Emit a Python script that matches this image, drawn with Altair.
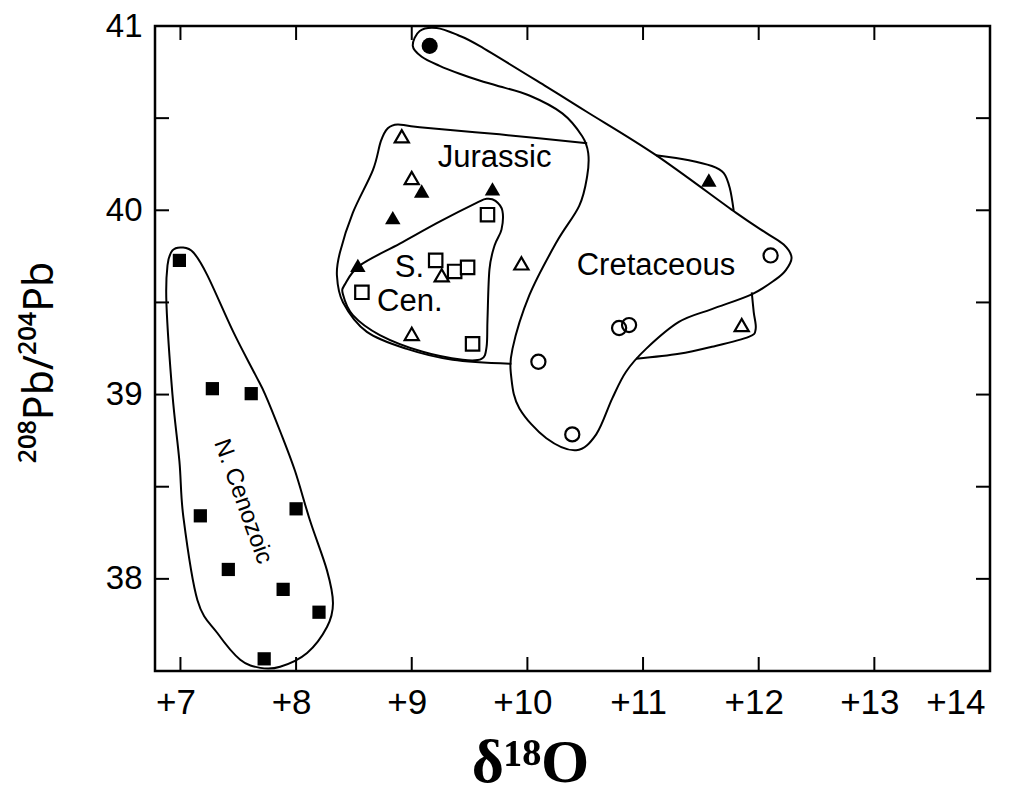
import altair as alt
import pandas as pd

# ---------------- axes ----------------
x_domain = [6.78, 14.0]
y_domain = [37.5, 41.0]
x_tick_values = [7, 8, 9, 10, 11, 12, 13, 14]
y_tick_values = [37.5, 38, 38.5, 39, 39.5, 40, 40.5, 41]
y_label_values = [38, 39, 40, 41]

# ---------------- data points ----------------
ncen_x = [6.991, 7.276, 7.612, 7.172, 8.000, 7.414, 7.888, 8.198, 7.724]
ncen_y = [39.728, 39.032, 39.005, 38.342, 38.380, 38.051, 37.943, 37.819, 37.566]

jur_fill_x = [9.086, 9.698, 8.836, 8.534, 11.569]
jur_fill_y = [40.105, 40.116, 39.960, 39.701, 40.164]

jur_open_x = [8.914, 9.000, 9.948, 9.259, 9.000, 11.853]
jur_open_y = [40.402, 40.175, 39.712, 39.647, 39.329, 39.377]

scen_x = [9.655, 9.207, 9.371, 9.483, 8.569, 9.526]
scen_y = [39.976, 39.728, 39.668, 39.690, 39.555, 39.275]

cret_open_x = [12.103, 10.793, 10.879, 10.095, 10.388]
cret_open_y = [39.755, 39.361, 39.377, 39.178, 38.784]

cret_fill_x = [9.155]
cret_fill_y = [40.892]

# ---------------- envelopes (outline vertices) ----------------
env_ncen_x = [7.017, 7.112, 7.233, 7.457, 7.647, 7.733, 7.862, 7.991, 8.121, 8.267,
              8.319, 8.267, 8.095, 7.862, 7.690, 7.517, 7.319, 7.147, 7.026, 6.991,
              6.931, 6.879, 6.888, 6.931]
env_ncen_y = [39.798, 39.771, 39.647, 39.340, 39.108, 39.000, 38.801, 38.585, 38.315, 38.046,
              37.868, 37.739, 37.598, 37.523, 37.517, 37.561, 37.706, 37.884, 38.332, 38.639,
              39.000, 39.491, 39.701, 39.782]

env_scen_x = [9.647, 9.724, 9.784, 9.776, 9.716, 9.672, 9.655, 9.647, 9.603, 9.440,
              9.095, 8.724, 8.491, 8.405, 8.422, 8.552, 8.897, 9.241, 9.560]
env_scen_y = [40.062, 40.051, 39.997, 39.895, 39.809, 39.679, 39.410, 39.259, 39.194, 39.189,
              39.232, 39.323, 39.431, 39.544, 39.598, 39.701, 39.819, 39.938, 40.040]

env_cret_x = [9.069, 9.216, 9.397, 9.586, 10.164, 10.509, 11.112, 11.802, 12.060, 12.216,
              12.284, 12.233, 12.147, 11.940, 11.595, 11.310, 11.026, 10.853, 10.733, 10.595,
              10.422, 10.164, 9.931, 9.862, 9.871, 10.017, 10.250, 10.448, 10.517, 10.526,
              10.474, 10.302, 10.017, 9.733, 9.586, 9.414, 9.241, 9.086, 9.009]
env_cret_y = [40.973, 40.989, 40.951, 40.892, 40.671, 40.536, 40.299, 39.987, 39.879, 39.814,
              39.744, 39.674, 39.625, 39.544, 39.464, 39.394, 39.248, 39.124, 38.978, 38.784,
              38.698, 38.763, 38.925, 39.086, 39.248, 39.539, 39.825, 40.024, 40.186, 40.310,
              40.402, 40.526, 40.623, 40.677, 40.704, 40.741, 40.784, 40.833, 40.892]

# Jurassic envelope: visible pieces (the rest is hidden by the Cretaceous outline)
env_jur1_x = [10.517, 9.759, 9.069, 8.879, 8.793, 8.733, 8.664, 8.491, 8.379, 8.353,
              8.405, 8.612, 8.957, 9.353, 9.862]
env_jur1_y = [40.364, 40.412, 40.450, 40.466, 40.445, 40.375, 40.218, 39.987, 39.771, 39.647,
              39.501, 39.340, 39.248, 39.189, 39.167]
env_jur2_x = [11.112, 11.397, 11.595, 11.698, 11.750, 11.784]
env_jur2_y = [40.299, 40.272, 40.240, 40.202, 40.121, 39.997]
env_jur3_x = [11.940, 11.957, 11.974, 11.914, 11.595, 11.310, 10.940]
env_jur3_y = [39.555, 39.447, 39.356, 39.313, 39.259, 39.221, 39.194]

# ---------------- annotations ----------------
lab_text = ["Jurassic", "Cretaceous"]
lab_x = [9.716, 11.112]
lab_y = [40.283, 39.700]
left_text = ["S.", "Cen."]
left_x = [8.853, 8.700]
left_y = [39.685, 39.500]
rot_text = ["N. Cenozoic"]
rot_x = [7.54]
rot_y = [38.42]

W, H = 835, 645
TICK = 14
SANS = "Liberation Sans"


def X(field):
    return alt.X(
        field, type="quantitative",
        scale=alt.Scale(domain=x_domain, nice=False, zero=False),
        axis=alt.Axis(values=x_tick_values, labelExpr="'+' + datum.value",
                      ticks=False, tickSize=0, domain=False, grid=False,
                      labelFont=SANS, labelFontSize=35, labelPadding=14, labelOffset=-5,
                      labelColor="black", titleColor="black",
                      titleFont="Liberation Serif", titleFontSize=62, titleFontWeight="bold",
                      titlePadding=12, titleX=375, titleAlign="center"),
        title="δ¹⁸O")


def Y(field):
    return alt.Y(
        field, type="quantitative",
        scale=alt.Scale(domain=y_domain, nice=False, zero=False),
        axis=alt.Axis(values=y_label_values, ticks=False, tickSize=0, domain=False, grid=False,
                      labelFont=SANS, labelFontSize=33, labelPadding=13,
                      labelColor="black", titleColor="black",
                      titleFont="Noto Sans", titleFontSize=41, titleFontWeight="normal",
                      titlePadding=44, titleY=336),
        title="²⁰⁸Pb/²⁰⁴Pb")


def pts(xs, ys):
    return pd.DataFrame({"x": xs, "y": ys})


def path(xs, ys, part=0):
    return pd.DataFrame({"x": xs, "y": ys, "i": list(range(len(xs))), "part": part})


layers = []

# envelopes
for ex, ey in [(env_ncen_x, env_ncen_y), (env_scen_x, env_scen_y), (env_cret_x, env_cret_y)]:
    layers.append(
        alt.Chart(path(ex, ey)).mark_line(interpolate="cardinal-closed", color="black",
                                          strokeWidth=2)
        .encode(x=X("x"), y=Y("y"), order=alt.Order("i:Q"))
    )
jur = pd.concat([path(env_jur1_x, env_jur1_y, 1), path(env_jur2_x, env_jur2_y, 2),
                 path(env_jur3_x, env_jur3_y, 3)])
layers.append(
    alt.Chart(jur).mark_line(interpolate="cardinal", color="black", strokeWidth=2)
    .encode(x=X("x"), y=Y("y"), order=alt.Order("i:Q"), detail="part:N")
)

# markers
layers.append(alt.Chart(pts(ncen_x, ncen_y)).mark_point(shape="square", filled=True, color="black",
                                                        size=175, opacity=1)
              .encode(x=X("x"), y=Y("y")))
layers.append(alt.Chart(pts(jur_fill_x, jur_fill_y)).mark_point(shape="triangle-up", filled=True,
                                                                color="black", size=240, opacity=1)
              .encode(x=X("x"), y=Y("y")))
layers.append(alt.Chart(pts(jur_open_x, jur_open_y)).mark_point(shape="triangle-up", filled=False,
                                                                color="black", size=200,
                                                                strokeWidth=2.2, opacity=1)
              .encode(x=X("x"), y=Y("y")))
layers.append(alt.Chart(pts(scen_x, scen_y)).mark_point(shape="square", filled=False, color="black",
                                                        size=180, strokeWidth=2.2, opacity=1,
                                                        fill="white")
              .encode(x=X("x"), y=Y("y")))
layers.append(alt.Chart(pts(cret_open_x, cret_open_y)).mark_point(shape="circle", filled=False,
                                                                  color="black", size=200,
                                                                  strokeWidth=2.2, opacity=1)
              .encode(x=X("x"), y=Y("y")))
layers.append(alt.Chart(pts(cret_fill_x, cret_fill_y)).mark_point(shape="circle", filled=True,
                                                                  color="black", size=260, opacity=1)
              .encode(x=X("x"), y=Y("y")))

# inward ticks on all four sides
xt = pd.DataFrame({"t": x_tick_values})
yt = pd.DataFrame({"t": y_tick_values})
layers.append(alt.Chart(xt).mark_rule(color="black", strokeWidth=2)
              .encode(x=X("t"), y=alt.value(H), y2=alt.value(H - TICK)))
layers.append(alt.Chart(xt).mark_rule(color="black", strokeWidth=2)
              .encode(x=X("t"), y=alt.value(0), y2=alt.value(TICK)))
layers.append(alt.Chart(yt).mark_rule(color="black", strokeWidth=2)
              .encode(y=Y("t"), x=alt.value(0), x2=alt.value(TICK)))
layers.append(alt.Chart(yt).mark_rule(color="black", strokeWidth=2)
              .encode(y=Y("t"), x=alt.value(W), x2=alt.value(W - TICK)))

# annotations
layers.append(alt.Chart(pd.DataFrame({"x": lab_x, "y": lab_y, "t": lab_text}))
              .mark_text(font=SANS, fontSize=31, color="black", align="center", baseline="middle")
              .encode(x=X("x"), y=Y("y"), text="t:N"))
layers.append(alt.Chart(pd.DataFrame({"x": left_x, "y": left_y, "t": left_text}))
              .mark_text(font=SANS, fontSize=31, color="black", align="left", baseline="middle")
              .encode(x=X("x"), y=Y("y"), text="t:N"))
layers.append(alt.Chart(pd.DataFrame({"x": rot_x, "y": rot_y, "t": rot_text}))
              .mark_text(font=SANS, fontSize=24, color="black", align="center", baseline="middle",
                         angle=70)
              .encode(x=X("x"), y=Y("y"), text="t:N"))

chart = alt.layer(*layers).properties(
    width=W, height=H,
    autosize=alt.AutoSizeParams(type="none"),
    padding={"left": 147, "top": 18, "right": 20, "bottom": 128},
    background="white",
).configure_view(stroke="black", strokeWidth=2.5)

chart.save("out.html", embed_options={"renderer": "svg", "actions": False})
